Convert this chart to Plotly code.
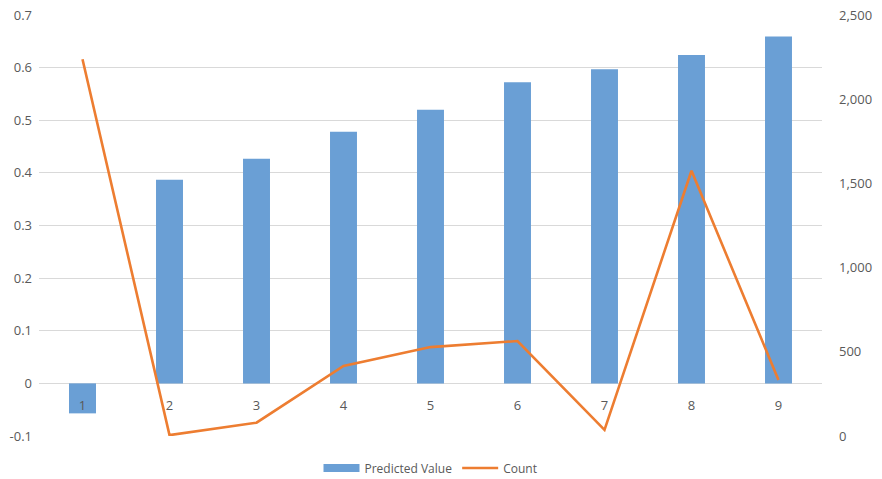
import plotly.graph_objects as go

categories = ["1", "2", "3", "4", "5", "6", "7", "8", "9"]
predicted_value = [-0.057, 0.387, 0.427, 0.478, 0.520, 0.572, 0.597, 0.624, 0.659]
count = [2237, 5, 79, 416, 528, 564, 36, 1575, 332]

left_ticks = [-0.1, 0, 0.1, 0.2, 0.3, 0.4, 0.5, 0.6, 0.7]
right_ticks = [0, 500, 1000, 1500, 2000, 2500]

text_color = "#595959"
grid_color = "#D9D9D9"
bar_color = "#6A9FD5"
line_color = "#ED7D31"
font_family = "Open Sans, Liberation Sans, sans-serif"

fig = go.Figure()
fig.add_trace(go.Bar(
    x=categories, y=predicted_value, name="Predicted Value",
    marker=dict(color=bar_color, line=dict(width=0)),
    yaxis="y", showlegend=False,
))
# wide swatch for the bar series in the legend
fig.add_trace(go.Scatter(
    x=[None], y=[None], name="Predicted Value", mode="lines",
    line=dict(color=bar_color, width=8), yaxis="y",
))
fig.add_trace(go.Scatter(
    x=categories, y=count, name="Count", mode="lines",
    line=dict(color=line_color, width=2.6),
    yaxis="y2",
))

ymin, ymax = -0.1, 0.7
zero_pos = (0 - ymin) / (ymax - ymin)

fig.update_layout(
    width=882, height=479,
    margin=dict(l=39, r=60, t=15, b=43, autoexpand=False),
    plot_bgcolor="white", paper_bgcolor="white",
    bargap=0.69,
    font=dict(family=font_family, size=13, color=text_color),
    showlegend=True,
    legend=dict(
        orientation="h", x=0.5, xanchor="center",
        yref="container", y=0.023, yanchor="middle",
        font=dict(size=12, color=text_color), itemwidth=36,
        traceorder="normal",
    ),
    xaxis=dict(
        type="category", anchor="free", position=zero_pos,
        showgrid=False, showline=False, ticks="", zeroline=False,
        tickfont=dict(size=13, color=text_color), automargin=False,
        ticklabelstandoff=13,
    ),
    yaxis=dict(
        range=[ymin, ymax], tickvals=left_ticks,
        ticktext=[f"{v:g}" for v in left_ticks],
        showgrid=True, gridcolor=grid_color, gridwidth=1,
        zeroline=True, zerolinecolor=grid_color, zerolinewidth=1,
        showline=False, ticks="", ticklabelstandoff=6, automargin=False,
    ),
    yaxis2=dict(
        range=[0, 2500], tickvals=right_ticks, tickformat=",",
        overlaying="y", side="right", showgrid=False, zeroline=False,
        showline=False, ticks="", ticklabelstandoff=16, automargin=False,
    ),
)

fig.write_html("out.html")
